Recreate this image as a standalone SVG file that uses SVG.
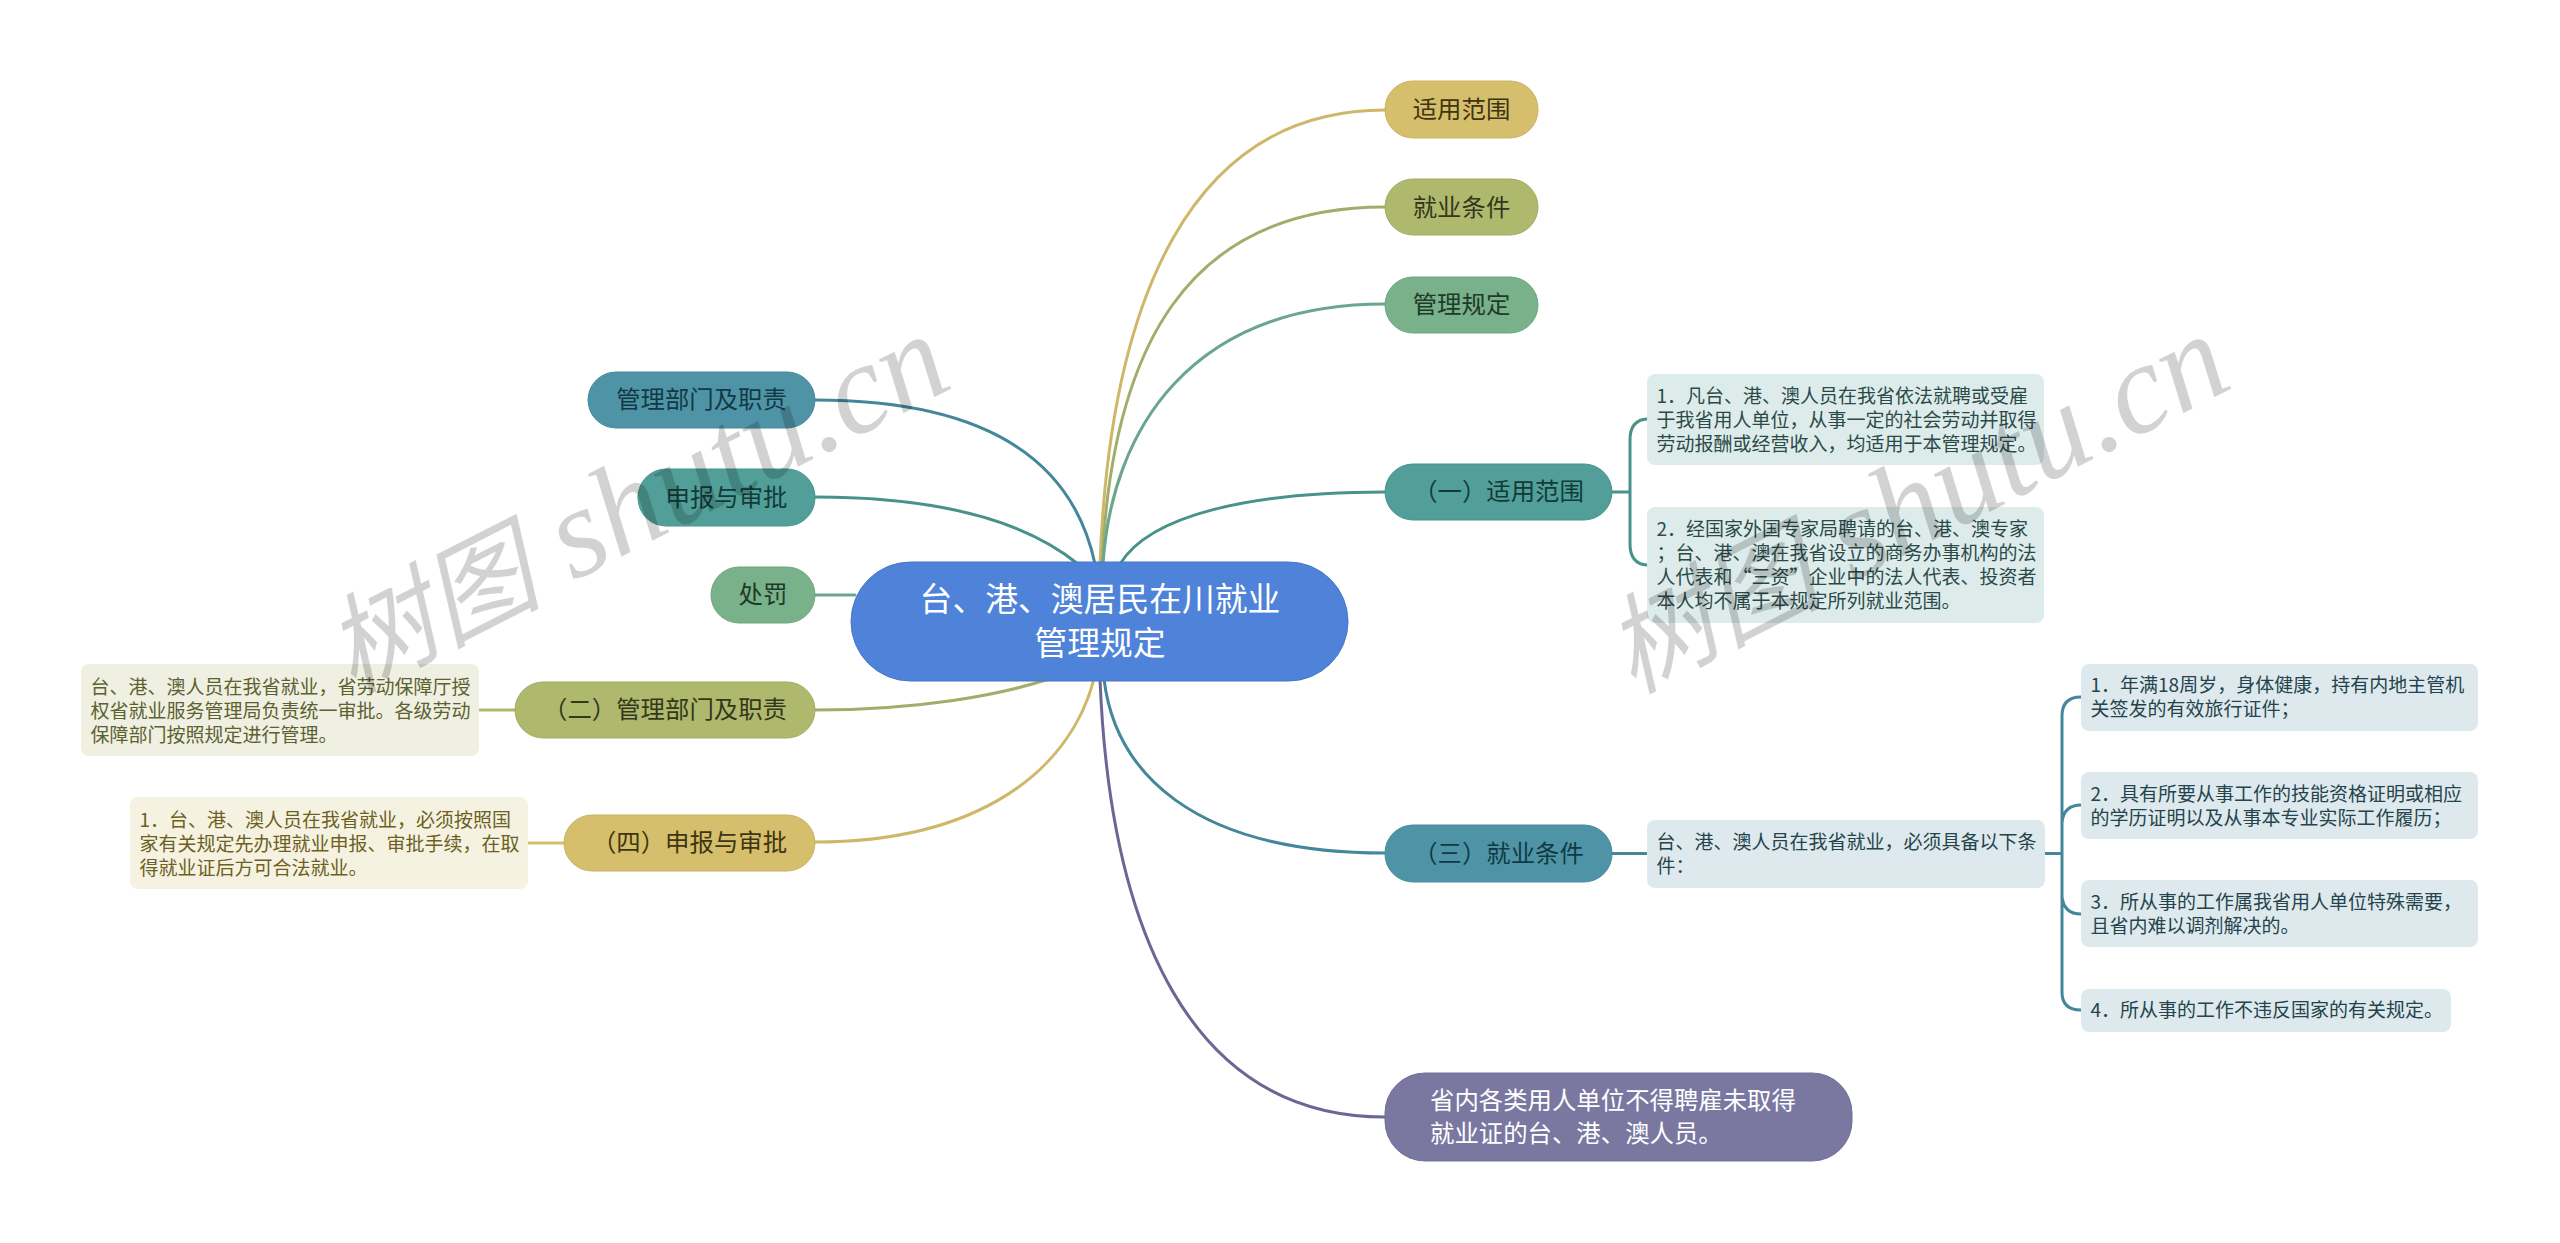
<svg xmlns="http://www.w3.org/2000/svg" width="2560" height="1243" viewBox="0 0 2560 1243">
<style>
text{font-family:"Noto Sans CJK SC","Microsoft YaHei","Liberation Sans",sans-serif}
.n{font-size:24.4px;text-anchor:middle}
.d{font-size:19px}
.c{fill:none;stroke-width:3;stroke-linecap:round}
.wm{font-family:"Liberation Serif","Noto Sans CJK SC",serif;font-size:128px;fill:#000;fill-opacity:.175;font-style:italic}
.wm .h{font-size:108px}
.y{fill:#d6bf6c;stroke:#c9b25f}.o{fill:#afb96e;stroke:#a2ac62}.g{fill:#78b18a;stroke:#6ca57e}.t{fill:#519f98;stroke:#47948d}.b{fill:#4f94a6;stroke:#468a9c}
.dt{fill:#deebeb}.dt2{fill:#dde9ec}.do{fill:#eff0e2}.dy{fill:#f5f2e1}
</style>
<rect width="2560" height="1243" fill="#fff"/>
<g id="connectors">
<path class="c" stroke="#cfb76a" d="M1100 564C1110 300 1190 110 1385 110"/>
<path class="c" stroke="#a3ad6b" d="M1102 564C1112 350 1185 207 1385 207"/>
<path class="c" stroke="#6aa68b" d="M1103 564C1112 430 1190 304 1385 304"/>
<path class="c" stroke="#48928b" d="M1120 564C1150 515 1250 492 1385 492"/>
<path class="c" stroke="#44879a" d="M1104 679C1115 770 1190 853 1385 853"/>
<path class="c" stroke="#6a6794" d="M1100 679C1110 930 1190 1117 1385 1117"/>
<path class="c" stroke="#44879a" d="M1095 564C1075 470 1000 400 815 400"/>
<path class="c" stroke="#48928b" d="M1078 564C1030 525 950 497 815 497"/>
<path class="c" stroke="#6aa68b" d="M855 595H815"/>
<path class="c" stroke="#a3ad6b" d="M1049 679C1000 695 920 710 815 710"/>
<path class="c" stroke="#cfb76a" d="M1094 679C1070 770 980 842 815 842"/>
<path class="c" stroke="#48928b" d="M1612 492H1630M1647 419Q1630 420 1630 440V544Q1630 564 1647 565"/>
<path class="c" stroke="#44879a" d="M1612 853.5H1647M2045 853.5H2062M2081 697Q2062 697 2062 716V992Q2062 1010 2081 1010M2081 805Q2064 805 2062 822M2081 914Q2064 914 2062 897"/>
<path class="c" stroke="#afb96e" d="M479 710H515"/>
<path class="c" stroke="#d6bf6c" d="M528 843H564"/>
</g>
<g id="root"><rect x="851" y="562" width="497" height="119" rx="59.5" fill="#4e83d9" stroke="#4577c6"/>
<text x="1100" y="611" font-size="32.800" text-anchor="middle" fill="#fff">台、港、澳居民在川就业</text><text x="1100" y="655" font-size="32.800" text-anchor="middle" fill="#fff">管理规定</text></g>
<g id="n1"><rect class="y" x="1385" y="81" width="153" height="57" rx="28"/><text class="n" x="1461.5" y="118" fill="#3f3510">适用范围</text></g>
<g id="n2"><rect class="o" x="1385" y="179" width="153" height="56" rx="28"/><text class="n" x="1461.5" y="215.500" fill="#33381a">就业条件</text></g>
<g id="n3"><rect class="g" x="1385" y="277" width="153" height="56" rx="28"/><text class="n" x="1461.5" y="313" fill="#1e3a28">管理规定</text></g>
<g id="n4"><rect class="t" x="1385" y="464" width="227" height="56" rx="28"/><text class="n" x="1498.5" y="500" fill="#123b38">（一）适用范围</text></g>
<g id="n4a"><rect class="dt" x="1647" y="374" width="397" height="91" rx="8"/><text class="d" fill="#2a4a48"><tspan x="1656.500" y="403">1．凡台、港、澳人员在我省依法就聘或受雇</tspan><tspan x="1656.500" y="427">于我省用人单位，从事一定的社会劳动并取得</tspan><tspan x="1656.500" y="451">劳动报酬或经营收入，均适用于本管理规定。</tspan></text></g>
<g id="n4b"><rect class="dt" x="1647" y="507" width="397" height="116" rx="8"/><text class="d" fill="#2a4a48"><tspan x="1656.500" y="536">2．经国家外国专家局聘请的台、港、澳专家</tspan><tspan x="1656.500" y="560">；台、港、澳在我省设立的商务办事机构的法</tspan><tspan x="1656.500" y="584">人代表和“三资”企业中的法人代表、投资者</tspan><tspan x="1656.500" y="608">本人均不属于本规定所列就业范围。</tspan></text></g>
<g id="n5"><rect class="b" x="1385" y="825" width="227" height="57" rx="28"/><text class="n" x="1498.5" y="861.500" fill="#113a45">（三）就业条件</text></g>
<g id="n5a"><rect class="dt2" x="1647" y="820" width="398" height="68" rx="8"/><text class="d" fill="#25434c"><tspan x="1656.500" y="849">台、港、澳人员在我省就业，必须具备以下条</tspan><tspan x="1656.500" y="873">件：</tspan></text></g>
<g id="n5b"><rect class="dt2" x="2081" y="664" width="397" height="67" rx="8"/><text class="d" fill="#25434c"><tspan x="2090.500" y="692">1．年满18周岁，身体健康，持有内地主管机</tspan><tspan x="2090.500" y="716">关签发的有效旅行证件；</tspan></text></g>
<g id="n5c"><rect class="dt2" x="2081" y="772" width="397" height="67" rx="8"/><text class="d" fill="#25434c"><tspan x="2090.500" y="801">2．具有所要从事工作的技能资格证明或相应</tspan><tspan x="2090.500" y="825">的学历证明以及从事本专业实际工作履历；</tspan></text></g>
<g id="n5d"><rect class="dt2" x="2081" y="880" width="397" height="67" rx="8"/><text class="d" fill="#25434c"><tspan x="2090.500" y="909">3．所从事的工作属我省用人单位特殊需要，</tspan><tspan x="2090.500" y="933">且省内难以调剂解决的。</tspan></text></g>
<g id="n5e"><rect class="dt2" x="2081" y="989" width="370" height="43" rx="8"/><text class="d" fill="#25434c"><tspan x="2090.500" y="1017">4．所从事的工作不违反国家的有关规定。</tspan></text></g>
<g id="n6"><rect x="1385" y="1073" width="467" height="88" rx="40" fill="#7a78a1" stroke="#706e96"/><text font-size="24.400" fill="#fff"><tspan x="1430" y="1109">省内各类用人单位不得聘雇未取得</tspan><tspan x="1430" y="1142">就业证的台、港、澳人员。</tspan></text></g>
<g id="n7"><rect class="b" x="588" y="372" width="227" height="56" rx="28"/><text class="n" x="701.5" y="408" fill="#113a45">管理部门及职责</text></g>
<g id="n8"><rect class="t" x="638" y="469" width="177" height="57" rx="28"/><text class="n" x="726.500" y="506" fill="#123b38">申报与审批</text></g>
<g id="n9"><rect class="g" x="711" y="567" width="104" height="56" rx="28"/><text class="n" x="763" y="603" fill="#1e3a28">处罚</text></g>
<g id="n10"><rect class="o" x="515" y="682" width="300" height="56" rx="28"/><text class="n" x="665" y="718" fill="#33381a">（二）管理部门及职责</text></g>
<g id="n10a"><rect class="do" x="81" y="664" width="398" height="92" rx="8"/><text class="d" fill="#5c6130"><tspan x="90.500" y="694">台、港、澳人员在我省就业，省劳动保障厅授</tspan><tspan x="90.500" y="718">权省就业服务管理局负责统一审批。各级劳动</tspan><tspan x="90.500" y="742">保障部门按照规定进行管理。</tspan></text></g>
<g id="n11"><rect class="y" x="564" y="815" width="251" height="56" rx="28"/><text class="n" x="689.500" y="851" fill="#3f3510">（四）申报与审批</text></g>
<g id="n11a"><rect class="dy" x="130" y="797" width="398" height="92" rx="8"/><text class="d" fill="#6e5f22"><tspan x="139.500" y="827">1．台、港、澳人员在我省就业，必须按照国</tspan><tspan x="139.500" y="851">家有关规定先办理就业申报、审批手续，在取</tspan><tspan x="139.500" y="875">得就业证后方可合法就业。</tspan></text></g>
<g id="watermarks">
<text class="wm" transform="translate(352 694) rotate(-27)"><tspan class="h">树图</tspan> shutu.cn</text>
<text class="wm" transform="translate(1632 694) rotate(-27)"><tspan class="h">树图</tspan> shutu.cn</text>
</g>
</svg>
